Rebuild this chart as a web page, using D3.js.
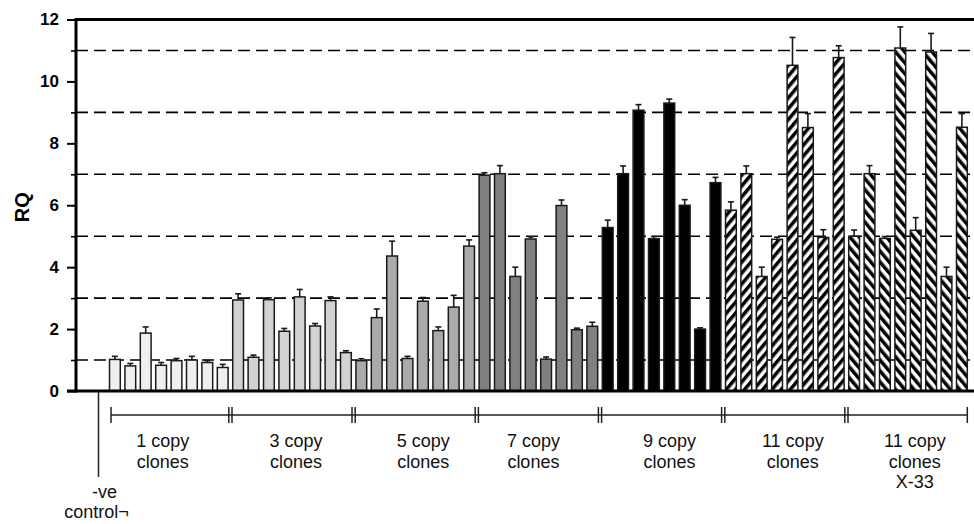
<!DOCTYPE html>
<html><head><meta charset="utf-8">
<script src="https://cdn.jsdelivr.net/npm/d3@7"></script>
<style>body{margin:0;background:#fff}svg{display:block}</style>
</head><body>
<svg id="c" width="974" height="524"></svg>
<script>
// ---- data ----
const groupLabels = [["1 copy","clones"],["3 copy","clones"],["5 copy","clones"],["7 copy","clones"],["9 copy","clones"],["11 copy","clones"],["11 copy","clones","X-33"]];
const rq1  = [1.02,0.81,1.87,0.83,0.98,1.00,0.92,0.76];
const err1 = [0.10,0.08,0.20,0.09,0.07,0.12,0.06,0.10];
const rq3  = [2.94,1.09,2.95,1.93,3.04,2.10,2.92,1.24];
const err3 = [0.20,0.07,0.06,0.09,0.24,0.08,0.12,0.06];
const rq5  = [0.98,2.37,4.36,1.05,2.90,1.95,2.71,4.68];
const err5 = [0.06,0.28,0.48,0.07,0.12,0.12,0.38,0.20];
const rq7  = [6.97,7.02,3.70,4.91,1.03,5.99,1.98,2.09];
const err7 = [0.08,0.26,0.30,0.07,0.07,0.18,0.05,0.13];
const rq9  = [5.28,7.02,9.07,4.92,9.30,6.00,2.00,6.73];
const err9 = [0.24,0.25,0.18,0.07,0.13,0.18,0.04,0.17];
const rq11 = [5.84,7.02,3.70,4.90,10.52,8.51,4.96,10.77];
const err11= [0.27,0.25,0.30,0.07,0.90,0.45,0.25,0.38];
const rq11x= [5.00,7.02,4.93,11.08,5.19,10.95,3.70,8.52];
const err11x=[0.20,0.26,0.06,0.68,0.41,0.60,0.30,0.44];
const controlLabel = ["-ve","control\u00AC"];
const yTicks = [0,2,4,6,8,10,12];
const yGrid = [1,3,5,7,9,11];

// ---- layout ----
const values = [rq1,rq3,rq5,rq7,rq9,rq11,rq11x];
const errs = [err1,err3,err5,err7,err9,err11,err11x];
const fills = ["#efefef","#d2d2d2","#aaaaaa","#808080","#000000","url(#hatchA)","url(#hatchB)"];
const labelShift = [-8,4,8,-5,8,8,8];
const bars = [];
values.forEach((arr,g)=>arr.forEach((v,j)=>bars.push({g, v, e: errs[g][j], i: 1 + g*8 + j})));

const svg = d3.select("#c");
const defs = svg.append("defs");
[["hatchA",40],["hatchB",-40]].forEach(([id,ang])=>{
  const p = defs.append("pattern").attr("id",id).attr("patternUnits","userSpaceOnUse")
    .attr("width",7).attr("height",7).attr("patternTransform",`rotate(${ang})`);
  p.append("rect").attr("width",7).attr("height",7).attr("fill","#fff");
  p.append("rect").attr("width",3.5).attr("height",7).attr("fill","#000");
});

const x = d3.scaleBand().domain(d3.range(57)).range([91.8, 969.6]).paddingInner(0.3).paddingOuter(0.15);
const y = d3.scaleLinear().domain([0,12]).range([391,19.5]);
const bw = x.bandwidth();
const axisX = 76, rightX = 974;
const font = "'Liberation Sans', Arial, Helvetica, sans-serif";

// grid
svg.append("g").selectAll("line").data(yGrid).join("line")
  .attr("x1",axisX).attr("x2",rightX).attr("y1",d=>y(d)).attr("y2",d=>y(d))
  .attr("stroke","#000").attr("stroke-width",1.6).attr("stroke-dasharray","12,6");

// bars
svg.append("g").selectAll("rect").data(bars).join("rect")
  .attr("x",d=>x(d.i)).attr("width",bw)
  .attr("y",d=>y(d.v)).attr("height",d=>y(0)-y(d.v))
  .attr("fill",d=>fills[d.g]).attr("stroke","#1a1a1a").attr("stroke-width",1.5);

// error bars
const eg = svg.append("g").attr("stroke","#1a1a1a").attr("stroke-width",1.6);
eg.selectAll(".ev").data(bars).join("line").attr("class","ev")
  .attr("x1",d=>x(d.i)+bw/2).attr("x2",d=>x(d.i)+bw/2)
  .attr("y1",d=>y(d.v)).attr("y2",d=>y(d.v+d.e));
eg.selectAll(".ec").data(bars).join("line").attr("class","ec")
  .attr("x1",d=>x(d.i)+bw/2-3).attr("x2",d=>x(d.i)+bw/2+3)
  .attr("y1",d=>y(d.v+d.e)).attr("y2",d=>y(d.v+d.e));

// axes
const ya = svg.append("g").attr("transform",`translate(${axisX},0)`)
  .call(d3.axisLeft(y).tickValues(yTicks).tickSize(9).tickSizeOuter(0).tickPadding(8).tickFormat(d3.format("d")));
ya.select(".domain").remove();
ya.selectAll(".tick line").attr("stroke","#000").attr("stroke-width",2);
ya.selectAll(".tick text").attr("font-family",font)
  .attr("font-weight","bold").attr("font-size",17).attr("fill","#000");
const ym = svg.append("g").attr("transform",`translate(${axisX},0)`)
  .call(d3.axisLeft(y).tickValues(yGrid).tickSize(5).tickSizeOuter(0).tickFormat(""));
ym.select(".domain").remove();
ym.selectAll(".tick line").attr("stroke","#000").attr("stroke-width",1.6);

svg.append("line").attr("x1",axisX).attr("x2",axisX).attr("y1",y(12)-1.5).attr("y2",y(0)+1.5)
  .attr("stroke","#000").attr("stroke-width",3);
svg.append("line").attr("x1",axisX).attr("x2",rightX).attr("y1",y(12)).attr("y2",y(12))
  .attr("stroke","#000").attr("stroke-width",3);
svg.append("line").attr("x1",axisX-9).attr("x2",rightX).attr("y1",y(0)).attr("y2",y(0))
  .attr("stroke","#000").attr("stroke-width",3);

svg.append("text").attr("transform",`translate(29,${y(6)+2}) rotate(-90)`)
  .attr("text-anchor","middle").attr("font-family",font)
  .attr("font-weight","bold").attr("font-size",20).text("RQ");

// brackets
const step = x.step(), gap = (step - bw)/2;
const by = 415;
const bg = svg.append("g").attr("stroke","#222").attr("stroke-width",1.5);
const startX = x(1) + 1.5, endX = x(56) + bw;
bg.append("line").attr("x1",startX).attr("x2",endX).attr("y1",by).attr("y2",by);
const bounds = d3.range(1,7).map(g=>x(1+g*8)-gap);
const tickXs = [startX, endX].concat(bounds.flatMap(b=>[b-1.6,b+1.6]));
bg.selectAll(".bt").data(tickXs).join("line").attr("class","bt")
  .attr("x1",d=>d).attr("x2",d=>d).attr("y1",by-8).attr("y2",by+8);

const edges = [startX].concat(bounds).concat([endX]);
const lg = svg.append("g").attr("font-family",font)
  .attr("font-size",18).attr("text-anchor","middle").attr("fill","#111");
groupLabels.forEach((lines,g)=>{
  const cx = (edges[g]+edges[g+1])/2 + labelShift[g];
  lines.forEach((t,k)=>lg.append("text").attr("x",cx).attr("y",447+k*20.5).text(t));
});

// control
const cx0 = x(0)+bw/2 - 1;
svg.append("line").attr("x1",cx0).attr("x2",cx0).attr("y1",y(0)).attr("y2",477)
  .attr("stroke","#222").attr("stroke-width",1.5);
lg.append("text").attr("x",cx0+6).attr("y",498).text(controlLabel[0]);
lg.append("text").attr("x",cx0-2).attr("y",518).text(controlLabel[1]);
</script>
</body></html>
